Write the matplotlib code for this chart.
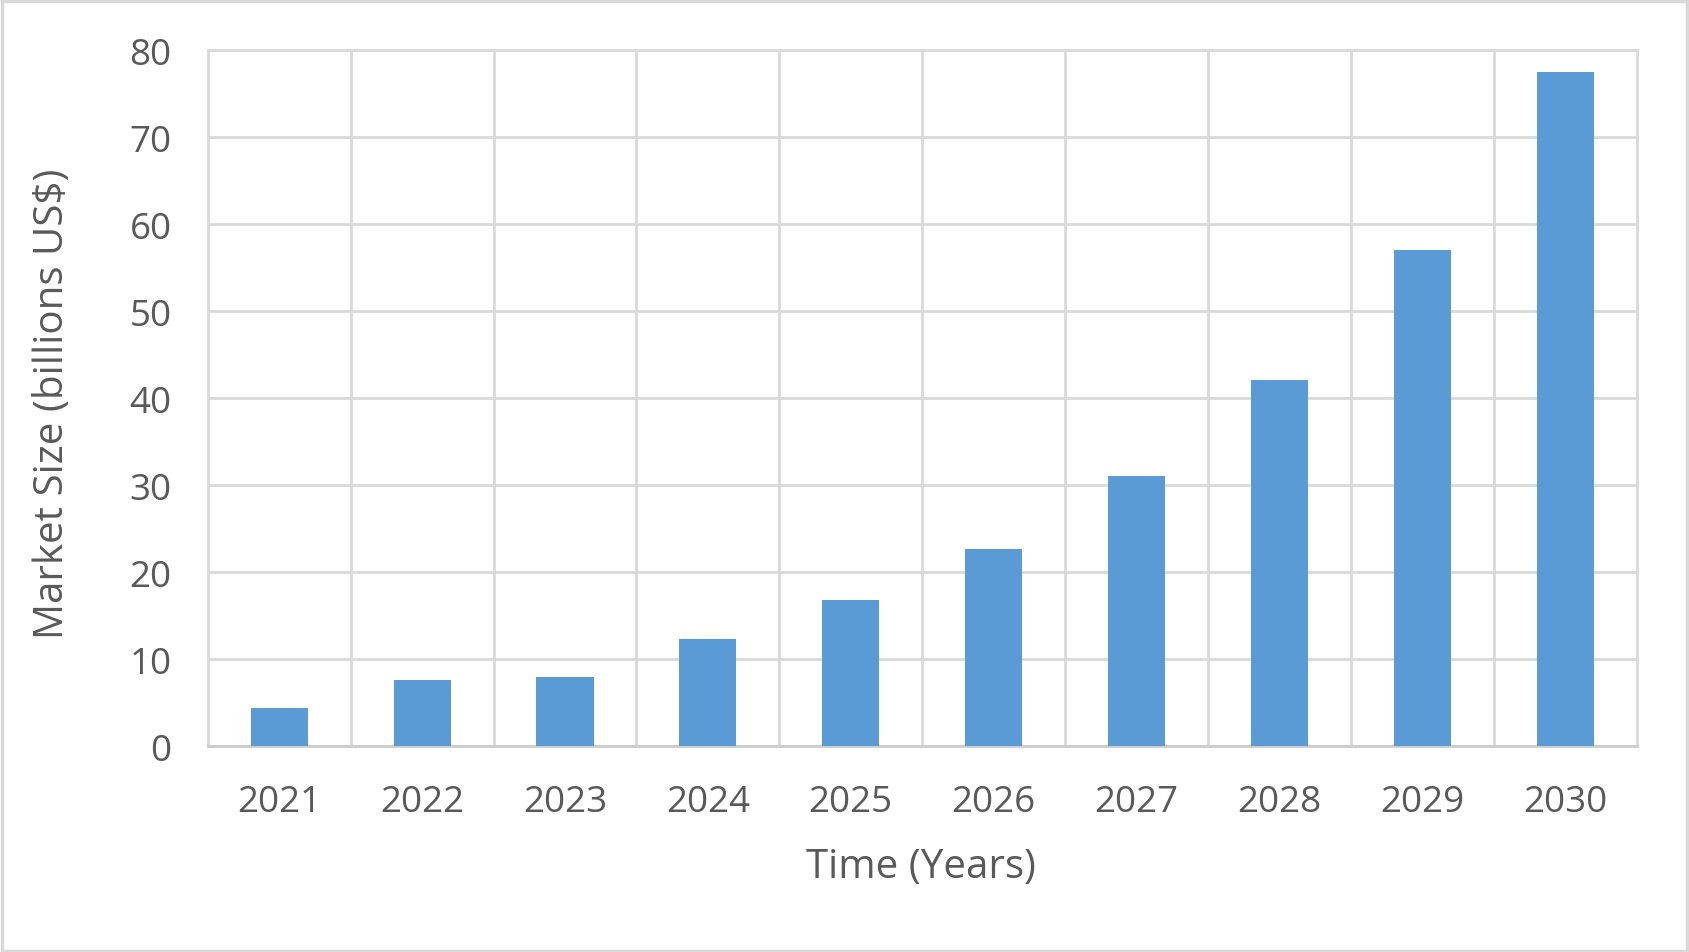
import matplotlib.pyplot as plt
from matplotlib.patches import Rectangle

years = ['2021', '2022', '2023', '2024', '2025', '2026', '2027', '2028', '2029', '2030']
market_size = [4.4, 7.6, 7.9, 12.3, 16.8, 22.7, 31.1, 42.1, 57.1, 77.5]
y_ticks = [0, 10, 20, 30, 40, 50, 60, 70, 80]

text_color = '#595959'
grid_color = '#d9d9d9'
bar_color = '#5b9bd5'
font = 'Open Sans'

fig = plt.figure(figsize=(16.89, 9.53), dpi=100)
ax = fig.add_axes([0.123, 0.216, 0.846, 0.730])

x = list(range(len(years)))
ax.bar(x, market_size, width=0.4, color=bar_color, zorder=3)

ax.set_xlim(-0.5, len(years) - 0.5)
ax.set_ylim(0, 80)
ax.set_yticks(y_ticks)
ax.set_yticklabels([str(v) for v in y_ticks], fontsize=26.5, color=text_color, family=font)
ax.set_xticks(x)
ax.set_xticklabels(years, fontsize=26.5, color=text_color, family=font)
ax.set_xticks([i + 0.5 for i in x[:-1]], minor=True)
ax.tick_params(axis='both', which='both', length=0)
ax.tick_params(axis='y', pad=26)
ax.tick_params(axis='x', pad=27)

ax.grid(True, axis='y', which='major', color=grid_color, linewidth=2, zorder=0)
ax.grid(True, axis='x', which='minor', color=grid_color, linewidth=2, zorder=0)
for side in ['left', 'right', 'top', 'bottom']:
    ax.spines[side].set_color(grid_color)
    ax.spines[side].set_linewidth(2)
ax.spines['bottom'].set_color('#cccccc')

fig.text(0.031, 0.576, 'Market Size (billions US$)', rotation=90, ha='center', va='center',
         fontsize=29, color=text_color, family=font)
fig.text(0.545, 0.089, 'Time (Years)', ha='center', va='center',
         fontsize=29, color=text_color, family=font)

fig.patches.append(Rectangle((0.001, 0.001), 0.998, 0.997, transform=fig.transFigure,
                             fill=False, edgecolor=grid_color, linewidth=2.5))

fig.savefig('out.png', dpi=100)
